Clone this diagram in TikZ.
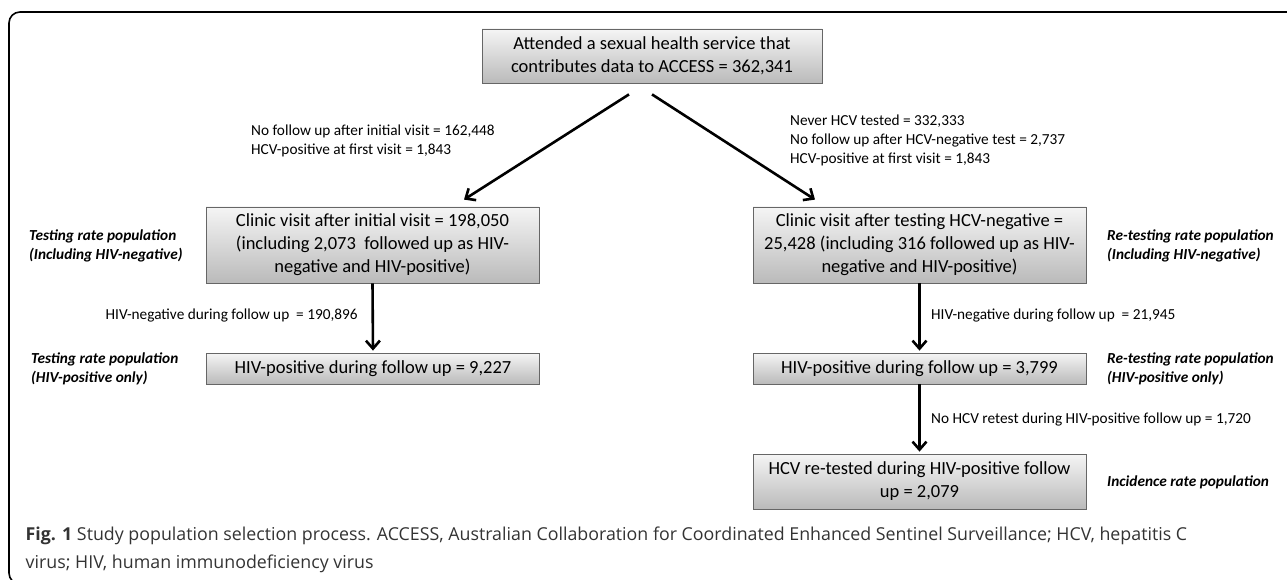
\documentclass[tikz,border=0pt]{standalone}
\usepackage{fontspec}
\setmainfont{Carlito}
\newfontfamily\capfont{Open Sans}
\usetikzlibrary{positioning,arrows.meta}

\tikzset{
  stage/.style={draw=black!60, line width=0.8pt, top color=black!4, bottom color=black!27,
    align=center, inner sep=0pt, font=\fontsize{18.5}{23}\selectfont},
  count/.style={anchor=west, align=left, inner sep=0pt, font=\fontsize{15.3}{19}\selectfont},
  popn/.style={anchor=west, align=left, inner sep=0pt, font=\fontsize{15.3}{19}\selectfont\bfseries\itshape},
  flow/.style={line width=2.6pt, -{Straight Barb[length=8pt,width=14pt]}},
}

\begin{document}
\begin{tikzpicture}[x=1pt,y=-1pt]
 \useasboundingbox (0,0) rectangle (1287,580);
 \draw[line width=1.6pt, rounded corners=11pt] (9,12) rectangle (1310,584);

 % boxes
 \node[stage,minimum width=340pt,minimum height=54pt] (access) at (652,56) {Attended a sexual health service that\\contributes data to ACCESS = 362,341};
 \node[stage,minimum width=333pt,minimum height=76pt] (visit) at (372.5,245) {Clinic visit after initial visit = 198,050\\(including 2,073~ followed up as HIV-\\negative and HIV-positive)};
 \node[stage,minimum width=333pt,minimum height=76pt] (negvisit) at (919.5,245) {Clinic visit after testing HCV-negative =\\25,428 (including 316 followed up as HIV-\\negative and HIV-positive)};
 \node[stage,minimum width=333pt,minimum height=31pt] (pos) at (373,368.5) {HIV-positive during follow up = 9,227};
 \node[stage,minimum width=333pt,minimum height=31pt] (negpos) at (919.5,368.5) {HIV-positive during follow up = 3,799};
 \node[stage,minimum width=333pt,minimum height=55pt] (retest) at (919.5,481.5) {HCV re-tested during HIV-positive follow\\up = 2,079};

 % arrows
 \draw[flow] ([xshift=-23pt,yshift=-11pt]access.south) -- ([xshift=91.5pt,yshift=7pt]visit.north);
 \draw[flow] ([yshift=-11pt]access.south) -- ([xshift=-104.5pt,yshift=7pt]negvisit.north);
 \draw[flow] (visit.south) -- ([yshift=2pt]pos.north);
 \draw[flow] (negvisit.south) -- ([yshift=2pt]negpos.north);
 \draw[flow] (negpos.south) -- ([yshift=2pt]retest.north);

 % counts
 \node[count] (lostA) at (251,140.5) {No follow up after initial visit = 162,448\\HCV-positive at first visit = 1,843};
 \node[count] (lostB) at (790,140.5) {Never HCV tested = 332,333\\No follow up after HCV-negative test = 2,737\\HCV-positive at first visit = 1,843};
 \node[count] (negA) at (105.5,316) {HIV-negative during follow up~ = 190,896};
 \node[count] (negB) at (931,316) {HIV-negative during follow up~ = 21,945};
 \node[count] (noretest) at (931,420) {No HCV retest during HIV-positive follow up = 1,720};

 % populations
 \node[popn] (testA) at (29,245.5) {Testing rate population\\(Including HIV-negative)};
 \node[popn] (testB) at (31,368.5) {Testing rate population\\(HIV-positive only)};
 \node[popn] (retestA) at (1107,245.5) {Re-testing rate population\\(Including HIV-negative)};
 \node[popn] (retestB) at (1107,368.5) {Re-testing rate population\\(HIV-positive only)};
 \node[popn] (incid) at (1107,482) {Incidence rate population};

 % caption
 \node[anchor=west, align=left, inner sep=0pt, text=black!80,
   font=\capfont\fontsize{17.8}{28}\selectfont] (caption) at (25.5,550)
   {\textbf{Fig. 1} Study population selection process. ACCESS, Australian Collaboration for Coordinated Enhanced Sentinel Surveillance; HCV, hepatitis C\\virus; HIV, human immunodeficiency virus};
\end{tikzpicture}
\end{document}
